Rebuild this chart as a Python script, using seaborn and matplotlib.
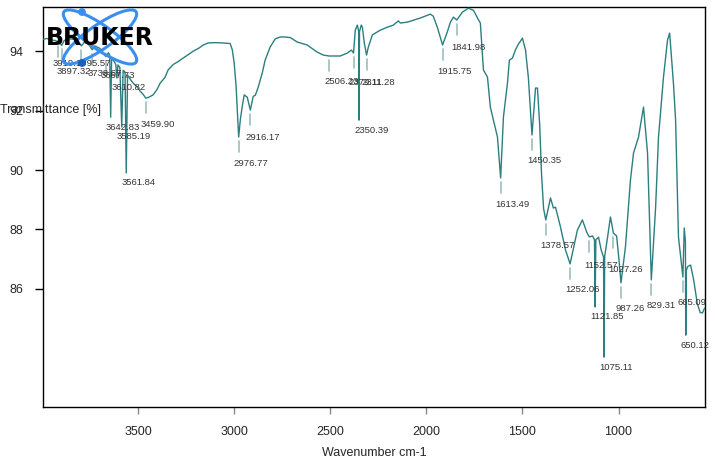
import matplotlib
matplotlib.use("Agg")
import matplotlib.pyplot as plt
import seaborn as sns
import pandas as pd
import numpy as np
from matplotlib.patches import Ellipse, Circle

# ---------------- data ----------------
wavenumber = [
    3995, 3975, 3950, 3930, 3912, 3897.32, 3885, 3860, 3830, 3810, 3795.57, 3780, 3760,
    3738.67, 3725, 3700, 3685, 3667.73, 3655, 3648, 3642.83, 3638, 3625, 3616, 3610.82,
    3605, 3595, 3585.19, 3578, 3568, 3561.84, 3555, 3540, 3525, 3505, 3490, 3474, 3459.90,
    3445, 3422, 3401, 3385, 3360, 3344, 3318, 3290, 3266, 3245, 3214, 3185, 3161, 3135,
    3100, 3060, 3021, 3010, 3000, 2990, 2976.77, 2968, 2958, 2948, 2932, 2916.17, 2901,
    2890, 2875, 2854, 2839, 2813, 2786, 2760, 2734, 2708, 2672, 2620, 2568, 2536, 2506,
    2484, 2448, 2411, 2390, 2379, 2370, 2359, 2352, 2350.39, 2348, 2339, 2333, 2323,
    2311.28, 2302, 2281, 2240, 2203, 2172, 2146, 2135, 2099, 2031, 1979, 1964, 1943,
    1915.75, 1891, 1875, 1859, 1841.98, 1812, 1781, 1755, 1734, 1719, 1703, 1682, 1667,
    1641, 1630, 1613.49, 1599, 1578, 1568, 1552, 1537, 1521, 1500, 1484, 1469, 1450.35,
    1432, 1422, 1410, 1401, 1390, 1378.57, 1354, 1339, 1328, 1302, 1276, 1252.06, 1214,
    1188, 1165, 1152.57, 1135, 1125, 1121.85, 1118, 1104, 1090, 1078, 1075.11, 1072, 1057,
    1042, 1030, 1027.26, 1010, 998, 987.26, 964, 938, 922, 896, 870, 849, 829.31, 807,
    792, 766, 745, 734, 714, 703, 688, 665.09, 658, 652, 650.12, 647, 640, 625, 609, 590,
    575, 563, 552,
]
transmittance = [
    94.40, 94.43, 94.38, 94.36, 94.30, 94.20, 94.36, 94.42, 94.40, 94.33, 94.18, 94.30, 94.26,
    94.05, 94.18, 94.10, 93.96, 93.82, 93.95, 93.88, 91.78, 93.76, 93.66, 93.55, 93.10,
    93.54, 93.45, 91.45, 93.36, 93.30, 89.90, 93.20, 93.05, 92.92, 92.80, 92.66, 92.55, 92.42,
    92.45, 92.53, 92.72, 92.93, 93.12, 93.37, 93.55, 93.66, 93.77, 93.86, 94.00, 94.10, 94.21, 94.28,
    94.29, 94.28, 94.26, 94.05, 93.60, 92.80, 91.11, 91.70, 92.15, 92.53, 92.45, 92.02, 92.48,
    92.52, 92.79, 93.27, 93.70, 94.14, 94.42, 94.48, 94.48, 94.46, 94.31, 94.21, 93.97, 93.87, 93.84,
    93.84, 93.84, 93.94, 94.04, 93.94, 94.71, 94.88, 94.66, 91.68, 94.66, 94.88, 94.81, 94.28,
    93.87, 94.14, 94.55, 94.71, 94.81, 94.88, 95.02, 94.95, 94.98, 95.12, 95.25, 95.18, 94.81,
    94.21, 94.65, 94.98, 95.15, 95.05, 95.32, 95.45, 95.38, 95.12, 94.95, 93.37, 93.13, 92.12,
    91.41, 91.11, 89.73, 91.78, 92.93, 93.70, 93.77, 94.04, 94.24, 94.44, 94.04, 93.10, 91.18,
    92.76, 92.76, 91.50, 89.90, 88.70, 88.32, 89.06, 88.72, 88.75, 88.08, 87.31, 86.84, 87.98,
    88.32, 87.90, 87.75, 87.78, 87.65, 85.39, 87.65, 87.74, 87.30, 87.07, 83.70, 87.10, 87.74,
    88.42, 88.00, 87.88, 87.78, 87.00, 86.20, 87.41, 89.66, 90.57, 91.11, 92.12, 90.57, 86.30, 88.75,
    91.11, 93.13, 94.38, 94.61, 92.90, 91.68, 87.74, 86.40, 88.05, 87.60, 84.44, 86.63, 86.75, 86.80, 86.30, 85.50,
    85.20, 85.19, 85.35,
]

peak_wn = [3919.10, 3897.32, 3795.57, 3738.67, 3667.73, 3642.83, 3610.82, 3585.19, 3561.84,
           3459.90, 2976.77, 2916.17, 2506.23, 2379.11, 2350.39, 2311.28, 1915.75, 1841.98,
           1613.49, 1450.35, 1378.57, 1252.06, 1152.57, 1121.85, 1075.11, 1027.26, 987.26,
           829.31, 665.09, 650.12]
spike_peaks = [3642.83, 3610.82, 3585.19, 3561.84, 2350.39, 1121.85, 1075.11, 650.12]

x_ticks = [3500, 3000, 2500, 2000, 1500, 1000]
y_ticks = [86, 88, 90, 92, 94]

# ---------------- layout ----------------
W, H = 715, 462
fig = plt.figure(figsize=(W / 100, H / 100), dpi=100)
sns.set_style("ticks")
plt.rcParams['font.family'] = ['Liberation Sans', 'DejaVu Sans']

ax_l, ax_r, ax_t, ax_b = 43, 705, 7, 407
ax = fig.add_axes([ax_l / W, 1 - ax_b / H, (ax_r - ax_l) / W, (ax_b - ax_t) / H])

df = pd.DataFrame({"wavenumber": wavenumber, "transmittance": transmittance})
sns.lineplot(data=df, x="wavenumber", y="transmittance", sort=False, estimator=None,
             color="#2b7f80", linewidth=1.0, ax=ax, zorder=3)

xlim = (3995, 550)
ylim = (82.02, 95.49)
ax.set_xlim(*xlim)
ax.set_ylim(*ylim)
ax.set_xticks(x_ticks)
ax.set_yticks(y_ticks)
ax.tick_params(axis='x', direction='out', length=5, width=1, color='#888888',
               labelsize=9, pad=9)
ax.tick_params(axis='y', direction='out', length=6, width=1, color='black',
               labelsize=9, pad=8)
for s in ax.spines.values():
    s.set_color('black')
    s.set_linewidth(1.0)
ax.set_xlabel("Wavenumber cm-1", fontsize=9, labelpad=6)
ax.set_ylabel("")
fig.text(0.0, 1 - 110 / H, "Transmittance [%]", fontsize=9, va='center', ha='left')

# pixel scale helpers
ppu = (ax_b - ax_t) / (ylim[1] - ylim[0])   # px per % T
ppw = (ax_r - ax_l) / (xlim[0] - xlim[1])   # px per cm-1

drop_override = {3919.10: 22, 3795.57: 18, 3738.67: 24, 3667.73: 19, 2916.17: 27,
                 1152.57: 29, 1027.26: 37, 2379.11: 29, 2311.28: 27, 1841.98: 27}
wn_arr = np.array(wavenumber)
tr_arr = np.array(transmittance)
for pw in peak_wn:
    near = np.abs(wn_arr - pw) < 4
    tpk = tr_arr[near].min() if near.any() else np.interp(-pw, -wn_arr, tr_arr)
    spike = pw in spike_peaks
    if spike:
        drop = 10
    else:
        drop = drop_override.get(pw, 26)
        ax.plot([pw, pw], [tpk - 4 / ppu, tpk - 15 / ppu], color='#9ebcbc', lw=1.2, zorder=2)
    ax.text(pw + 5 / ppw, tpk - drop / ppu, f"{pw:.2f}", fontsize=6.8, color='#333333',
            ha='left', va='center', zorder=4)

# ---------------- logo ----------------
lax = fig.add_axes([40 / W, 1 - 72 / H, 125 / W, 70 / H])
lax.set_xlim(40, 165)
lax.set_ylim(72, 2)
lax.axis('off')
blue = '#3a8ef0'
lax.add_patch(Ellipse((100, 37), 88, 24, angle=35, fill=False, ec=blue, lw=2.2))
lax.add_patch(Ellipse((100, 37), 88, 24, angle=-35, fill=False, ec=blue, lw=2.2))
lax.add_patch(Circle((82, 12), 3.2, color=blue))
lax.add_patch(Circle((82, 63), 3.2, color='#1a5fc0'))
lax.text(100, 38, "BRUKER", fontsize=17, fontweight='heavy', family='DejaVu Sans',
         ha='center', va='center', color='black')

fig.savefig("out.png", dpi=100)
